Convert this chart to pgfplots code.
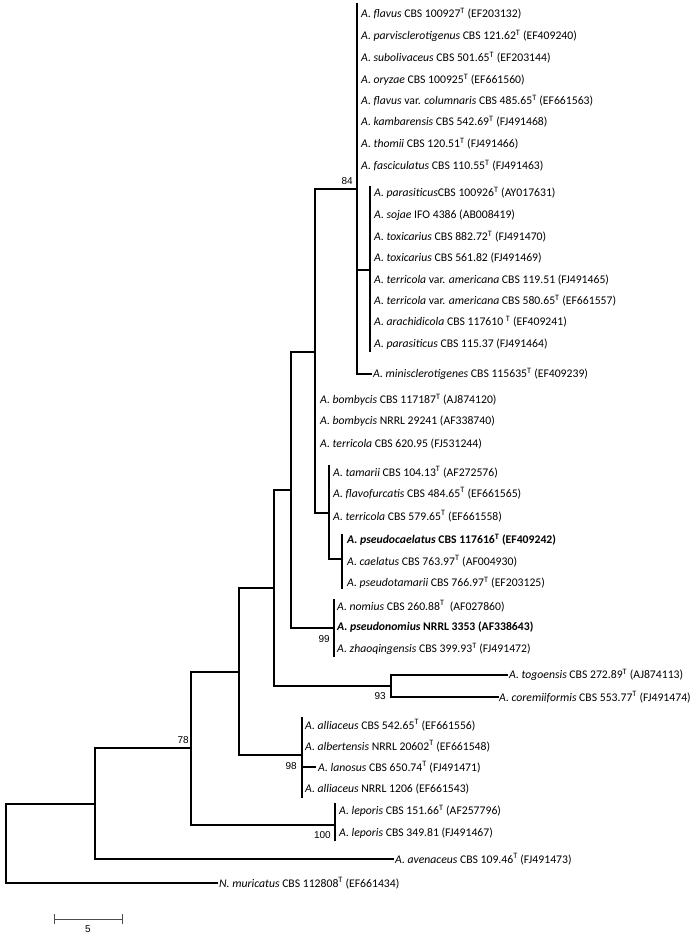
\documentclass[border=0pt]{standalone}
\usepackage{fontspec}
\setmainfont{Carlito}
\newfontfamily\numfont{Liberation Sans}
\usepackage{pgfplots}
\pgfplotsset{compat=1.18}

\newcommand{\T}{\textsuperscript{T}}

\begin{document}
\begin{tikzpicture}
\begin{axis}[
  scale only axis,
  width=698pt, height=937pt,
  xmin=0, xmax=698, ymin=0, ymax=937,
  y dir=reverse,
  axis line style={draw=none},
  xtick=\empty, ytick=\empty,
  clip=false,
  unbounded coords=jump,
]
% tree branches (pixel units of the reference)
\addplot[black, line width=2pt, line cap=rect, mark=none] coordinates {
  (6,804) (6,883) (nan,nan) (6,804) (95,804) (nan,nan) (6,883) (217,883) (nan,nan)
  (95,748) (95,859) (nan,nan) (95,748) (191,748) (nan,nan) (95,859) (393,859) (nan,nan)
  (191,672) (191,825) (nan,nan) (191,672) (239,672) (nan,nan) (191,825) (335,825) (nan,nan)
  (335,804) (335,840) (nan,nan)
  (239,588) (239,755) (nan,nan) (239,588) (274,588) (nan,nan) (239,755) (302,755) (nan,nan)
  (302,718) (302,797) (nan,nan) (302,767) (315,767) (nan,nan)
  (274,490) (274,686) (nan,nan) (274,490) (291,490) (nan,nan) (274,686) (391,686) (nan,nan)
  (391,675) (391,697) (nan,nan) (391,675) (507,675) (nan,nan) (391,697) (498,697) (nan,nan)
  (291,352) (291,628) (nan,nan) (291,352) (315,352) (nan,nan) (291,628) (334,628) (nan,nan)
  (334,600) (334,656) (nan,nan)
  (315,189) (315,513) (nan,nan) (315,189) (357,189) (nan,nan) (315,513) (329,513) (nan,nan)
  (329,466) (329,559) (nan,nan) (329,559) (342,559) (nan,nan)
  (342,535) (342,588) (nan,nan)
  (357,4) (357,374) (nan,nan) (357,270) (370,270) (nan,nan) (357,374) (371,374) (nan,nan)
  (370,187) (370,351)
};
% scale bar
\addplot[black!70, line width=1pt, mark=none] coordinates {
  (54,919) (122,919) (nan,nan) (54,914) (54,924) (nan,nan) (122,914) (122,924)
};

\begin{scope}[every node/.style={anchor=west, inner sep=0pt, font=\fontsize{11.7}{13}\selectfont}]
\node at (axis cs:361,14) {\textit{A. flavus} CBS 100927\T{} (EF203132)};
\node at (axis cs:361,36) {\textit{A. parvisclerotigenus} CBS 121.62\T{} (EF409240)};
\node at (axis cs:361,58) {\textit{A. subolivaceus} CBS 501.65\T{} (EF203144)};
\node at (axis cs:361,80) {\textit{A. oryzae} CBS 100925\T{} (EF661560)};
\node at (axis cs:361,101) {\textit{A. flavus} var. \textit{columnaris} CBS 485.65\T{} (EF661563)};
\node at (axis cs:361,122) {\textit{A. kambarensis} CBS 542.69\T{} (FJ491468)};
\node at (axis cs:361,144) {\textit{A. thomii} CBS 120.51\T{} (FJ491466)};
\node at (axis cs:361,166) {\textit{A. fasciculatus} CBS 110.55\T{} (FJ491463)};
\node at (axis cs:374,193) {\textit{A. parasiticus}CBS 100926\T{} (AY017631)};
\node at (axis cs:374,215) {\textit{A. sojae} IFO 4386 (AB008419)};
\node at (axis cs:374,237) {\textit{A. toxicarius} CBS 882.72\T{} (FJ491470)};
\node at (axis cs:374,258) {\textit{A. toxicarius} CBS 561.82 (FJ491469)};
\node at (axis cs:374,280) {\textit{A. terricola} var. \textit{americana} CBS 119.51 (FJ491465)};
\node at (axis cs:374,301) {\textit{A. terricola} var. \textit{americana} CBS 580.65\T{} (EF661557)};
\node at (axis cs:374,322) {\textit{A. arachidicola} CBS 117610 \T{} (EF409241)};
\node at (axis cs:374,344) {\textit{A. parasiticus} CBS 115.37 (FJ491464)};
\node at (axis cs:373,374) {\textit{A. minisclerotigenes} CBS 115635\T{} (EF409239)};
\node at (axis cs:320,400) {\textit{A. bombycis} CBS 117187\T{} (AJ874120)};
\node at (axis cs:320,421) {\textit{A. bombycis} NRRL 29241 (AF338740)};
\node at (axis cs:320,444) {\textit{A. terricola} CBS 620.95 (FJ531244)};
\node at (axis cs:333,472) {\textit{A. tamarii} CBS 104.13\T{} (AF272576)};
\node at (axis cs:333,493) {\textit{A. flavofurcatis} CBS 484.65\T{} (EF661565)};
\node at (axis cs:333,516) {\textit{A. terricola} CBS 579.65\T{} (EF661558)};
\node at (axis cs:347,540) {\bfseries\textit{A. pseudocaelatus} CBS 117616\T{} (EF409242)};
\node at (axis cs:347,561) {\textit{A. caelatus} CBS 763.97\T{} (AF004930)};
\node at (axis cs:347,583) {\textit{A. pseudotamarii} CBS 766.97\T{} (EF203125)};
\node at (axis cs:337,606) {\textit{A. nomius} CBS 260.88\T{}\ \ (AF027860)};
\node at (axis cs:337,627) {\bfseries\textit{A. pseudonomius} NRRL 3353 (AF338643)};
\node at (axis cs:337,649) {\textit{A. zhaoqingensis} CBS 399.93\T{} (FJ491472)};
\node at (axis cs:509,675) {\textit{A. togoensis} CBS 272.89\T{} (AJ874113)};
\node at (axis cs:499,697) {\textit{A. coremiiformis} CBS 553.77\T{} (FJ491474)};
\node at (axis cs:305,725) {\textit{A. alliaceus} CBS 542.65\T{} (EF661556)};
\node at (axis cs:305,746) {\textit{A. albertensis} NRRL 20602\T{} (EF661548)};
\node at (axis cs:318,767) {\textit{A. lanosus} CBS 650.74\T{} (FJ491471)};
\node at (axis cs:305,789) {\textit{A. alliaceus} NRRL 1206 (EF661543)};
\node at (axis cs:339,811) {\textit{A. leporis} CBS 151.66\T{} (AF257796)};
\node at (axis cs:339,833) {\textit{A. leporis} CBS 349.81 (FJ491467)};
\node at (axis cs:395,859) {\textit{A. avenaceus} CBS 109.46\T{} (FJ491473)};
\node at (axis cs:219,883) {\textit{N. muricatus} CBS 112808\T{} (EF661434)};
\end{scope}

\begin{scope}[every node/.style={inner sep=0pt, font=\numfont\fontsize{10}{12}\selectfont}]
\node[anchor=south east] at (axis cs:353,185) {84};
\node[anchor=east] at (axis cs:330,639) {99};
\node[anchor=east] at (axis cs:386,696) {93};
\node[anchor=east] at (axis cs:297,766) {98};
\node[anchor=south east] at (axis cs:189,744) {78};
\node[anchor=east] at (axis cs:331,835) {100};
\node[anchor=north] at (axis cs:88,925) {5};
\end{scope}
\end{axis}
\end{tikzpicture}
\end{document}
